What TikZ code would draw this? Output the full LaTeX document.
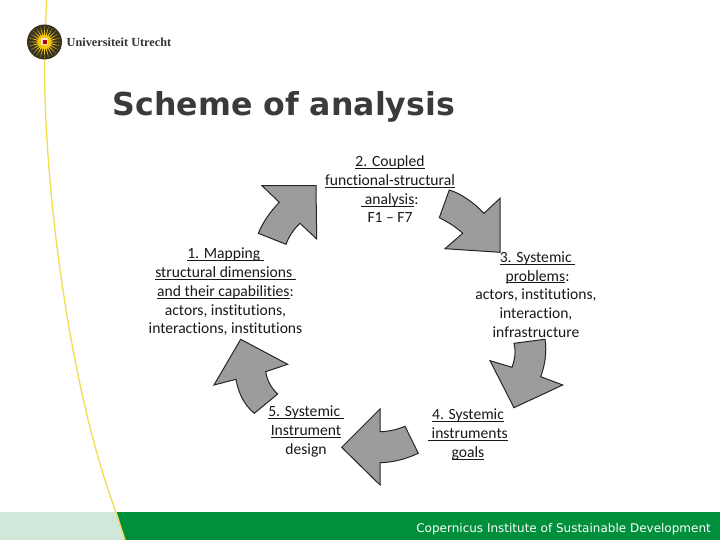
\documentclass[tikz,border=0pt]{standalone}
\usepackage{fontspec}
\usetikzlibrary{calc}
\setmainfont[Ligatures=CommonOff]{Carlito}
\newfontfamily\titlefont{DejaVu Sans}
\newfontfamily\logofont{Liberation Serif}
\definecolor{uugreen}{HTML}{008F3B}
\definecolor{uulight}{HTML}{CFE8DA}
\definecolor{uuyellow}{HTML}{F2DC50}
\definecolor{arrowgray}{HTML}{9C9C9C}
\definecolor{titlegray}{HTML}{3A3A3A}
\definecolor{suny}{HTML}{F2C80F}
\definecolor{sund}{HTML}{3A3320}
\newcommand\ulx[1]{\setbox0=\hbox{#1}\rlap{\rule[-2.2pt]{\wd0}{0.9pt}}\box0 }
\tikzset{
  cyc/.style={draw=black!85,fill=arrowgray,line width=1pt,line join=miter},
  lab/.style={align=center,font=\fontsize{15.6}{18.7}\selectfont,text=black!90,inner sep=0pt},
}
\begin{document}
\begin{tikzpicture}[x=1pt,y=-1pt]
\useasboundingbox (0,0) rectangle (720,540);
\fill[white] (0,0) rectangle (720,540);
% footer
\fill[uulight] (0,512) -- (116,512) -- (125,540) -- (0,540) -- cycle;
\fill[uugreen] (116,512) -- (720,512) -- (720,540) -- (125,540) -- cycle;
% yellow line
\draw[uuyellow,line width=1.3pt] (46.5,0) -- (44.5,60) .. controls (44,190) and (70,390) .. (116,512) -- (125,540);
% logo
\coordinate (sun) at (44.5,42);
\fill[sund] (sun) circle (17.5);
\foreach \a in {0,15,...,345}{
  \fill[suny] ($(sun)+(\a-6:6)$) -- ($(sun)+(\a:16)$) -- ($(sun)+(\a+6:6)$) -- cycle;
}
\fill[suny] (sun) circle (7);
\fill[white!85!red] (41,38.5) rectangle (48,45.5);
\fill[red!70!black] (43,40.5) rectangle (46.5,44);
\node[anchor=west,inner sep=0pt,font=\logofont\bfseries\fontsize{12.3}{14}\selectfont,text=black!80] (logotext) at (66.5,42) {Universiteit Utrecht};
% title
\node[anchor=west,inner sep=0pt,font=\titlefont\bfseries\fontsize{31.6}{36}\selectfont,text=titlegray] (title) at (112.5,106.5) {Scheme of analysis};
% footer text
\node[anchor=east,inner sep=0pt,font=\titlefont\fontsize{12}{14}\selectfont,text=white] (foot) at (711,529.5) {Copernicus Institute of Sustainable Development};
% arrows
\draw[cyc] (316,185.7) -- (262,185.7) -- (279.3,202.3) .. controls (270,212) and (263,222) .. (258.3,233.3) -- (286,244.3) .. controls (289,236) and (294,229) .. (300,223.3) -- (316.7,239) -- cycle;
\draw[cyc] (449.3,190) .. controls (462,194) and (474,203) .. (484,213.3) -- (500,198.3) -- (500,252.3) -- (445,248.7) -- (462.7,233.3) .. controls (456,227) and (448,222) .. (439.3,217.7) -- cycle;
\draw[cyc] (514,343.3) -- (545,339.3) .. controls (547,352) and (545,365) .. (540.7,376.7) -- (562.7,385) -- (514,407.7) -- (490,360.7) -- (512,367.3) .. controls (515,359) and (516,351) .. (514,343.3) -- cycle;
\draw[cyc] (380,409) -- (380,431.7) .. controls (389,431.5) and (397,429.5) .. (405,426.3) -- (418.3,453.3) .. controls (406,459) and (393,462.5) .. (380,462.7) -- (380,485) -- (341.7,447.3) -- cycle;
\draw[cyc] (240.7,339.3) -- (287.7,364.3) -- (265.7,371.7) .. controls (267,380) and (271,388) .. (277.7,394) -- (254.3,413.3) .. controls (244,405) and (238,392) .. (236,379.3) -- (214,385) -- cycle;
% labels
\node[lab] (n1) at (225.5,292) {\ulx{1. Mapping\ }\\\ulx{structural dimensions\ }\\\ulx{and their capabilities}:\\actors, institutions,\\interactions, institutions};
\node[lab] (n2) at (390,189.5) {\ulx{2. Coupled}\\\ulx{functional-structural}\\\ulx{\ analysis}:\\F1 -- F7};
\node[lab] (n3) at (536,294.5) {\hspace{3pt}\ulx{3. Systemic\ }\\\hspace{3pt}\ulx{problems}:\\actors, institutions,\\interaction,\\infrastructure};
\node[lab] (n4) at (468,434.5) {\ulx{4. Systemic}\\\ulx{\ instruments}\\\ulx{goals}};
\node[lab] (n5) at (306,431.5) {\ulx{5. Systemic\ }\\\ulx{Instrument}\\design};
\end{tikzpicture}
\end{document}
